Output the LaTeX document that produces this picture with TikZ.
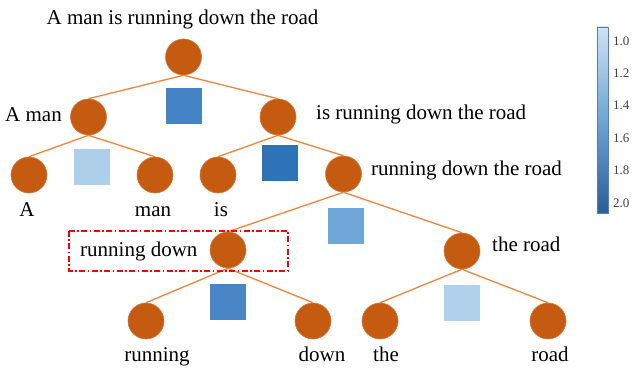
\documentclass[tikz,border=0pt]{standalone}
\usepackage{fontspec}
\setmainfont{Liberation Serif}
\definecolor{nodefill}{HTML}{C55A11}
\definecolor{nodeedge}{HTML}{D9783A}
\definecolor{edgecol}{HTML}{F0843C}
\definecolor{sqA}{HTML}{4584C4}
\definecolor{sqB}{HTML}{AECFEA}
\definecolor{sqC}{HTML}{2E73B5}
\definecolor{sqD}{HTML}{6FA8D8}
\definecolor{sqE}{HTML}{4A86C6}
\definecolor{sqF}{HTML}{B0D0EB}
\definecolor{cbtop}{HTML}{E3EEF8}
\definecolor{cbmid}{HTML}{6FA4D4}
\definecolor{cbbot}{HTML}{1F4E8A}
\definecolor{cbborder}{HTML}{4F7FC0}
\definecolor{ticktext}{HTML}{404040}
\pgfdeclareverticalshading{cbarshade}{100bp}{color(0bp)=(cbbot); color(20bp)=(cbbot); color(50bp)=(cbmid); color(80bp)=(cbtop); color(100bp)=(cbtop)}
\tikzset{
  tnode/.style={circle, fill=nodefill, draw=nodeedge, line width=0.6pt, minimum size=36pt, inner sep=0pt},
  sq/.style={minimum size=36pt, inner sep=0pt},
  edge/.style={draw=edgecol, line width=1.3pt},
  lbl/.style={font=\fontsize{21}{24}\selectfont, inner sep=0pt},
  tick/.style={font=\fontsize{13}{15}\selectfont, text=ticktext, inner sep=0pt, anchor=west},
  redbox/.style={draw=red, line width=1.2pt, dash pattern=on 6pt off 2.5pt on 1.5pt off 2.5pt}
}
\begin{document}
\begin{tikzpicture}[x=1pt,y=-1pt]
\useasboundingbox (0,0) rectangle (635,371);
% tree nodes
\node[tnode] (root) at (183.5,57) {};
\node[tnode] (aman) at (88.5,117) {};
\node[tnode] (isr) at (278,117) {};
\node[tnode] (a) at (29,175) {};
\node[tnode] (man) at (155,175) {};
\node[tnode] (is) at (218,175) {};
\node[tnode] (rdtr) at (343.5,174) {};
\node[tnode] (rd) at (228,250) {};
\node[tnode] (tr) at (462,251) {};
\node[tnode] (running) at (146,321) {};
\node[tnode] (down) at (313,321) {};
\node[tnode] (the) at (380,321) {};
\node[tnode] (road) at (548,321) {};
% edges
\draw[edge] (root.south) -- (aman.north);
\draw[edge] (root.south) -- (isr.north);
\draw[edge] (aman.south) -- (a.north);
\draw[edge] (aman.south) -- (man.north);
\draw[edge] (isr.south) -- (is.north);
\draw[edge] (isr.south) -- (rdtr.north);
\draw[edge] (rdtr.south) -- (rd.north);
\draw[edge] (rdtr.south) -- (tr.north);
\draw[edge] (rd.south) -- (running.north);
\draw[edge] (rd.south) -- (down.north);
\draw[edge] (tr.south) -- (the.north);
\draw[edge] (tr.south) -- (road.north);
% squares
\node[sq, fill=sqA] (s1) at (184,106) {};
\node[sq, fill=sqB] (s2) at (92,167) {};
\node[sq, fill=sqC] (s3) at (279.5,163) {};
\node[sq, fill=sqD] (s4) at (346,226) {};
\node[sq, fill=sqE] (s5) at (228,302) {};
\node[sq, fill=sqF] (s6) at (462,303) {};
% labels
\node[lbl, anchor=base] (l0) at (182.5,25) {A man is running down the road};
\node[lbl, anchor=base east] (l1) at (62,122) {A man};
\node[lbl, anchor=base west] (l2) at (316,120) {is running down the road};
\node[lbl, anchor=base west] (l3) at (371,175.5) {running down the road};
\node[lbl, anchor=base west] (l4) at (492,252) {the road};
\node[lbl, anchor=base west] (l5) at (80,257) {running down};
\node[lbl, anchor=base] (l6) at (27,217) {A};
\node[lbl, anchor=base] (l7) at (153,217) {man};
\node[lbl, anchor=base] (l8) at (221,217) {is};
\node[lbl, anchor=base] (l9) at (157,362) {running};
\node[lbl, anchor=base] (l10) at (322,362) {down};
\node[lbl, anchor=base] (l11) at (386,362) {the};
\node[lbl, anchor=base] (l12) at (550,362) {road};
% red dash-dot box
\draw[redbox] (69,231) rectangle (288,271);
% colour bar
\shade[shading=cbarshade] (597,27) rectangle (608,213);
\draw[cbborder, line width=0.6pt] (597,27) rectangle (608,213);
\node[tick] (c10) at (613,41) {1.0};
\node[tick] (c12) at (613,73.4) {1.2};
\node[tick] (c14) at (613,105.8) {1.4};
\node[tick] (c16) at (613,138.2) {1.6};
\node[tick] (c18) at (613,170.6) {1.8};
\node[tick] (c20) at (613,203) {2.0};
\end{tikzpicture}
\end{document}
